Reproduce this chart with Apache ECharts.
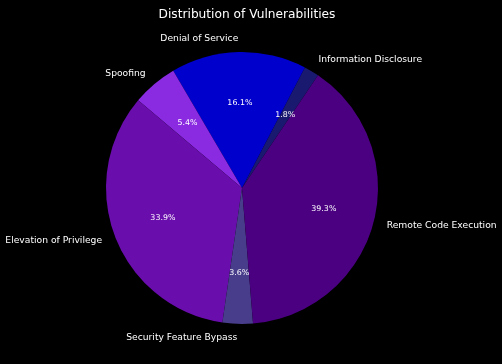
<!DOCTYPE html>
<html><head><meta charset="utf-8">
<script src="https://cdn.jsdelivr.net/npm/echarts@6/dist/echarts.min.js"></script>
<style>html,body{margin:0;padding:0;background:#000;}#c{width:502px;height:364px;}</style>
</head><body><div id="c"></div>
<script>
var categories = ["Information Disclosure","Denial of Service","Spoofing","Elevation of Privilege","Security Feature Bypass","Remote Code Execution"];
var values = [1.8, 16.1, 5.4, 33.9, 3.6, 39.3];
var colors = ["#191970","#0000CD","#8A2BE2","#6A0DAD","#483D8B","#4B0082"];
var R = 136;
var chart = echarts.init(document.getElementById('c'));
var font = "DejaVu Sans";
var mainData = categories.map(function(c,i){return {name:c, value:values[i], itemStyle:{color:colors[i]}};});
var pctData = categories.map(function(c,i){return {name:c, value:values[i]};});
chart.setOption({
  backgroundColor:'#000',
  animation:false,
  title:{text:'Distribution of Vulnerabilities', left:242, top:4, textAlign:'center',
    textStyle:{color:'#fff', fontFamily:font, fontSize:12.2, fontWeight:'normal'}},
  series:[
    {type:'pie', center:[242,188], radius:[0,R], startAngle:56, clockwise:false,
     avoidLabelOverlap:false, silent:true, data:mainData,
     label:{show:true, position:'outside', color:'#fff', fontFamily:font, fontSize:9.2, formatter:'{b}', distanceToLabelLine:0, padding:[3,0,0,0]},
     labelLine:{show:false, length:R*0.1, length2:0}},
    {type:'pie', center:[242,188], radius:[0,R*1.2], startAngle:56, clockwise:false,
     avoidLabelOverlap:false, silent:true, data:pctData,
     itemStyle:{color:'rgba(0,0,0,0)'},
     label:{show:true, position:'inside', color:'#fff', fontFamily:font, fontSize:7.9, formatter:'{c}%'},
     labelLine:{show:false}}
  ]
});
</script></body></html>
